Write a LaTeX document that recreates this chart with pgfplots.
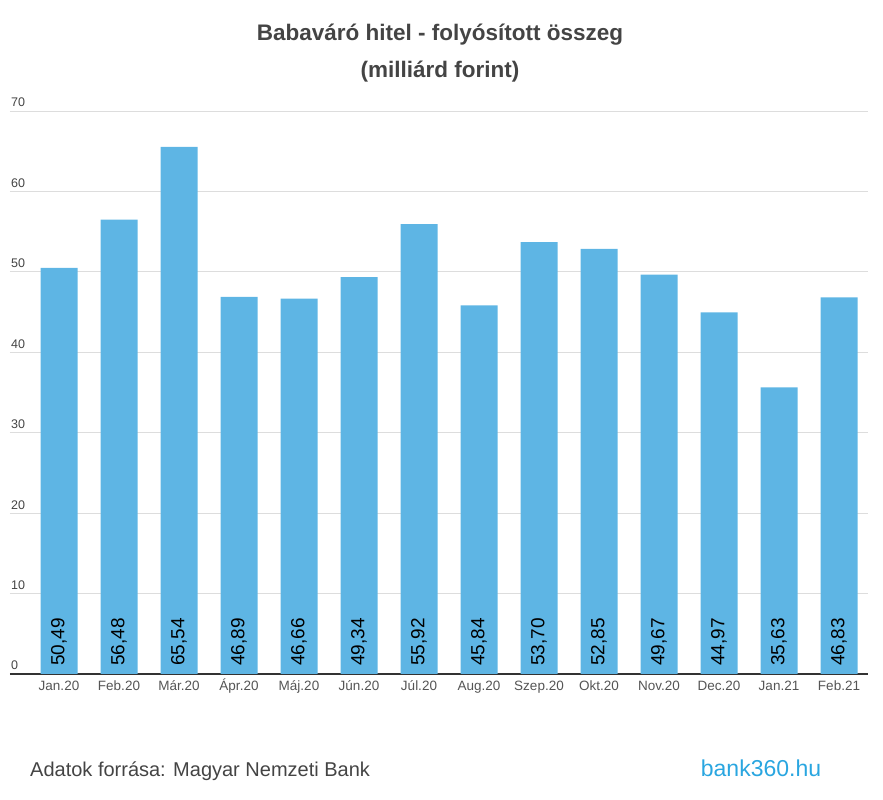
\documentclass[border=0pt]{standalone}
\usepackage{fontspec}
\setmainfont{Liberation Sans}
\usepackage{pgfplots}
\usepackage{pgfplotstable}
\pgfplotsset{compat=1.18}
\definecolor{barblue}{HTML}{5EB5E4}
\definecolor{textgrey}{HTML}{444444}
\definecolor{ticktext}{HTML}{555555}
\definecolor{gridgrey}{HTML}{DDDDDD}
\definecolor{axisdark}{HTML}{333333}
\definecolor{logoblue}{HTML}{2AA6E0}
\pgfplotstableread{
x y
0 50.49
1 56.48
2 65.54
3 46.89
4 46.66
5 49.34
6 55.92
7 45.84
8 53.70
9 52.85
10 49.67
11 44.97
12 35.63
13 46.83
}\datatable
\begin{document}
\begin{tikzpicture}[x=1pt,y=1pt]
\path[use as bounding box] (0,0) rectangle (883,800);
\node[anchor=base, font=\fontsize{22.5}{27}\selectfont\bfseries, text=textgrey] at (440,759) {Babaváró hitel - folyósított összeg};
\node[anchor=base, font=\fontsize{22.5}{27}\selectfont\bfseries, text=textgrey] at (440,722) {(milliárd forint)};
\node[anchor=base west, inner sep=0pt, font=\fontsize{20}{24}\selectfont, text=textgrey] at (30,23) {Adatok forrása: Magyar Nemzeti Bank};
\node[anchor=base, inner sep=0pt, font=\fontsize{23}{27}\selectfont, text=logoblue] at (761,23) {bank360.hu};
\begin{axis}[
  at={(10pt,126pt)}, anchor=south west,
  scale only axis, width=858pt, height=563pt,
  xmin=-0.8167, xmax=13.4833, ymin=0, ymax=70,
  ytick={0,10,...,70},
  xtick={0,...,13},
  xticklabels={Jan.20,Feb.20,Már.20,Ápr.20,Máj.20,Jún.20,Júl.20,Aug.20,Szep.20,Okt.20,Nov.20,Dec.20,Jan.21,Feb.21},
  ymajorgrids, grid style={color=gridgrey, line width=0.8pt},
  axis x line*=bottom, axis y line*=left,
  x axis line style={-, line width=2pt, color=axisdark},
  y axis line style={draw=none},
  tick style={draw=none}, major tick length=0pt,
  /pgf/number format/assume math mode=true,
  yticklabel style={anchor=base west, inner sep=0pt, xshift=1pt, yshift=4pt, font=\fontsize{12.5}{15}\selectfont, text=textgrey},
  xticklabel style={anchor=base, inner sep=0pt, yshift=-17pt, font=\fontsize{13.5}{16}\selectfont, text=ticktext},
  clip=false,
]
\addplot[ybar, bar width=37pt, bar shift=0pt, fill=barblue, draw=none] table[x=x, y=y] {\datatable};
\addplot[draw=none, mark=none, nodes near coords, point meta=explicit,
  nodes near coords style={rotate=90, anchor=west, inner xsep=8pt, inner ysep=0pt, font=\fontsize{19}{22}\selectfont, text=black},
  /pgf/number format/.cd, fixed, fixed zerofill, precision=2, use comma]
  table[x=x, y expr=0, meta=y] {\datatable};
\end{axis}
\end{tikzpicture}
\end{document}
